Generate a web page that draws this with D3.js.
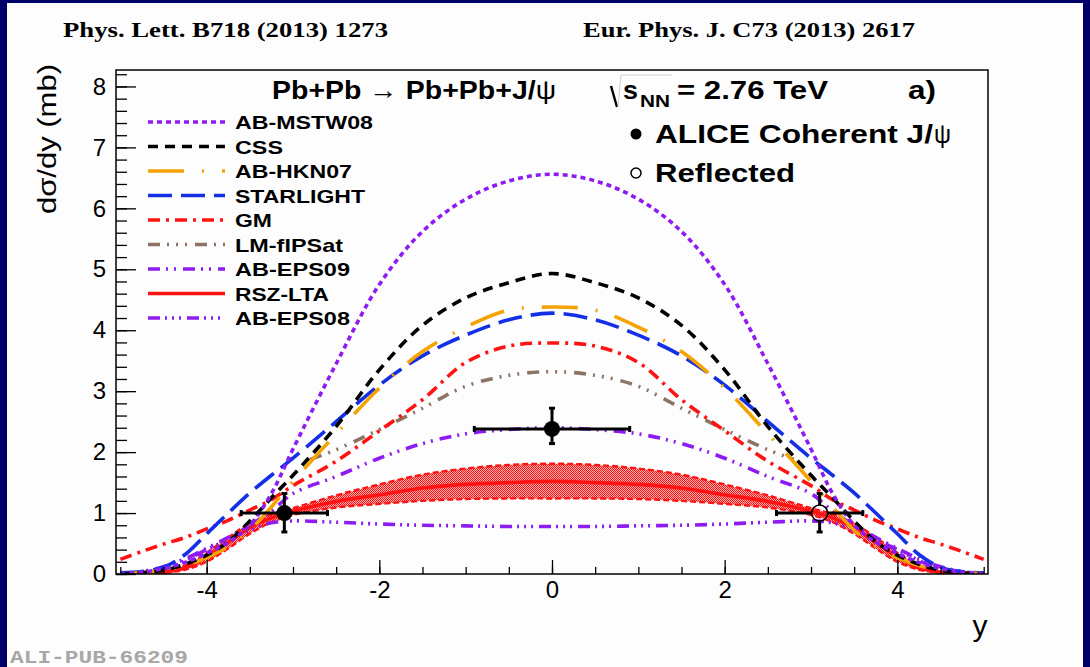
<!DOCTYPE html>
<html>
<head>
<meta charset="utf-8">
<script src="https://cdn.jsdelivr.net/npm/d3@7"></script>
<style>
  body { margin: 0; background: #000068; }
  svg { display: block; }
</style>
</head>
<body>
<svg id="chart"></svg>
<script>
const W = 1090, H = 667;

// rapidity grid shared by most model curves
const rapidity = [-5, -4.75, -4.5, -4.25, -4, -3.75, -3.5, -3.25, -3, -2.5, -2, -1.5, -1, -0.5, 0,
                  0.5, 1, 1.5, 2, 2.5, 3, 3.25, 3.5, 3.75, 4, 4.25, 4.5, 4.75, 5];

const abMstw08  = [0.0, 0.03, 0.09, 0.19, 0.34, 0.52, 0.8, 1.32, 2.05, 3.45, 4.75, 5.62, 6.15, 6.45, 6.56,
                   6.45, 6.15, 5.62, 4.75, 3.45, 2.05, 1.32, 0.8, 0.52, 0.34, 0.19, 0.09, 0.03, 0.0];
const css       = [0.0, 0.02, 0.06, 0.16, 0.31, 0.53, 0.87, 1.25, 1.62, 2.42, 3.35, 4.08, 4.53, 4.78, 4.93,
                   4.78, 4.53, 4.08, 3.35, 2.42, 1.62, 1.25, 0.87, 0.53, 0.31, 0.16, 0.06, 0.02, 0.0];
const abHkn07   = [0.0, 0.02, 0.06, 0.14, 0.27, 0.45, 0.72, 1.1, 1.52, 2.3, 3.05, 3.65, 4.05, 4.33, 4.38,
                   4.33, 4.05, 3.65, 3.05, 2.3, 1.52, 1.1, 0.72, 0.45, 0.27, 0.14, 0.06, 0.02, 0.0];
const starlight = [0.02, 0.04, 0.11, 0.32, 0.66, 1.0, 1.33, 1.62, 1.9, 2.5, 3.1, 3.58, 3.92, 4.17, 4.28,
                   4.17, 3.92, 3.58, 3.1, 2.5, 1.9, 1.62, 1.33, 1.0, 0.66, 0.32, 0.11, 0.04, 0.02];
const gm        = [0.24, 0.37, 0.49, 0.6, 0.74, 0.88, 1.05, 1.22, 1.45, 1.85, 2.35, 2.86, 3.47, 3.74, 3.79,
                   3.74, 3.47, 2.86, 2.35, 1.85, 1.45, 1.22, 1.05, 0.88, 0.74, 0.6, 0.49, 0.37, 0.24];
const abEps09   = [0.01, 0.04, 0.12, 0.25, 0.42, 0.6, 0.8, 1.03, 1.32, 1.6, 1.9, 2.14, 2.3, 2.37, 2.4,
                   2.37, 2.3, 2.14, 1.9, 1.6, 1.32, 1.03, 0.8, 0.6, 0.42, 0.25, 0.12, 0.04, 0.01];
const abEps08   = [0.0, 0.02, 0.08, 0.22, 0.4, 0.56, 0.72, 0.84, 0.87, 0.85, 0.82, 0.8, 0.79, 0.78, 0.78,
                   0.78, 0.79, 0.8, 0.82, 0.85, 0.87, 0.84, 0.72, 0.56, 0.4, 0.22, 0.08, 0.02, 0.0];
const rszLta    = [0.0, 0.01, 0.03, 0.1, 0.28, 0.52, 0.76, 0.92, 1.03, 1.19, 1.3, 1.41, 1.47, 1.5, 1.52,
                   1.5, 1.47, 1.41, 1.3, 1.19, 1.03, 0.92, 0.76, 0.52, 0.28, 0.1, 0.03, 0.01, 0.0];
const rszLtaHi  = [0.0, 0.01, 0.04, 0.14, 0.35, 0.6, 0.83, 0.98, 1.08, 1.29, 1.47, 1.63, 1.73, 1.79, 1.81,
                   1.79, 1.73, 1.63, 1.47, 1.29, 1.08, 0.98, 0.83, 0.6, 0.35, 0.14, 0.04, 0.01, 0.0];
const rszLtaLo  = [0.0, 0.0, 0.02, 0.07, 0.2, 0.42, 0.66, 0.85, 0.97, 1.09, 1.15, 1.2, 1.23, 1.24, 1.24,
                   1.24, 1.23, 1.2, 1.15, 1.09, 0.97, 0.85, 0.66, 0.42, 0.2, 0.07, 0.02, 0.0, 0.0];

// LM-fIPSat only covers |y| < 2.8
const lmRapidity = [-2.8, -2.5, -2, -1.5, -1, -0.5, 0, 0.5, 1, 1.5, 2, 2.5, 2.8];
const lmFipsat   = [1.88, 2.04, 2.37, 2.72, 3.08, 3.26, 3.32, 3.26, 3.08, 2.72, 2.37, 2.04, 1.88];

// ALICE measurements
const aliceY    = [-3.1, 0];
const aliceVal  = [1.0, 2.38];
const aliceEx   = [0.5, 0.9];
const aliceUp   = [0.32, 0.34];
const aliceDown = [0.31, 0.24];
const reflY     = [3.1];
const reflVal   = [1.0];
const reflEx    = [0.5];
const reflUp    = [0.32];
const reflDown  = [0.31];

const xTicks = [-4, -2, 0, 2, 4];
const yTicks = [0, 1, 2, 3, 4, 5, 6, 7, 8];

const models = [
  {name: 'AB-MSTW08', ys: rapidity,   vals: abMstw08,  color: '#8e1cf2', dash: '5,4'},
  {name: 'CSS',       ys: rapidity,   vals: css,       color: '#000000', dash: '10,7'},
  {name: 'AB-HKN07',  ys: rapidity,   vals: abHkn07,   color: '#f5a300', dash: '36,18,2,18'},
  {name: 'STARLIGHT', ys: rapidity,   vals: starlight, color: '#1430e6', dash: '24,9'},
  {name: 'GM',        ys: rapidity,   vals: gm,        color: '#ff1212', dash: '12,6,3,6'},
  {name: 'LM-fIPSat', ys: lmRapidity, vals: lmFipsat,  color: '#8c7364', dash: '12,7,2,7,2,7,2,8'},
  {name: 'AB-EPS09',  ys: rapidity,   vals: abEps09,   color: '#8e1cf2', dash: '12,6,2,6,2,7'},
  {name: 'RSZ-LTA',   ys: rapidity,   vals: rszLta,    color: '#ff1212', dash: null},
  {name: 'AB-EPS08',  ys: rapidity,   vals: abEps08,   color: '#8e1cf2', dash: '12,5,2,5,2,5,2,6'}
];
const legendWidths = [138, 48, 117, 130, 37, 108, 115, 94, 115];

const sans = '"Liberation Sans", Arial, sans-serif';

const svg = d3.select('#chart').attr('width', W).attr('height', H);
svg.append('rect').attr('x', 7).attr('y', 3).attr('width', 1076).attr('height', 664).attr('fill', '#fdfdfd');

const x = d3.scaleLinear().domain([-5.05, 5.05]).range([116, 988]);
const y = d3.scaleLinear().domain([0, 8.27]).range([574, 70]);

function text(s, px, py, size, opts = {}) {
  const t = svg.append('text')
    .attr('x', px).attr('y', py)
    .attr('font-family', opts.family || sans)
    .attr('font-size', size)
    .attr('font-weight', opts.weight || 'normal')
    .attr('fill', opts.fill || '#000')
    .attr('text-anchor', opts.anchor || 'start')
    .text(s);
  if (opts.len) t.attr('textLength', opts.len).attr('lengthAdjust', 'spacingAndGlyphs');
  return t;
}

// journal references
text('Phys. Lett. B718 (2013) 1273', 63, 37, 22, {family: '"Liberation Serif", serif', weight: 'bold', len: 325});
text('Eur. Phys. J. C73 (2013) 2617', 583, 37, 22, {family: '"Liberation Serif", serif', weight: 'bold', len: 332});

// hatched band of RSZ-LTA
const defs = svg.append('defs');
const pat = defs.append('pattern').attr('id', 'hatch').attr('patternUnits', 'userSpaceOnUse')
  .attr('width', 2).attr('height', 2);
pat.append('rect').attr('width', 2).attr('height', 2).attr('fill', '#ffb4b4');
pat.append('rect').attr('width', 1).attr('height', 1).attr('fill', '#ff1010');
pat.append('rect').attr('x', 1).attr('y', 1).attr('width', 1).attr('height', 1).attr('fill', '#ff1010');

defs.append('clipPath').attr('id', 'frame').append('rect')
  .attr('x', 116).attr('y', 70).attr('width', 872).attr('height', 504);

const plot = svg.append('g').attr('clip-path', 'url(#frame)');
const smooth = d3.curveCatmullRom.alpha(0.5);

const area = d3.area().curve(smooth)
  .x((d, i) => x(rapidity[i])).y0((d, i) => y(rszLtaLo[i])).y1((d, i) => y(rszLtaHi[i]));
plot.append('path').datum(rapidity).attr('d', area).attr('fill', 'url(#hatch)');

const line = d3.line().curve(smooth).x(d => x(d[0])).y(d => y(d[1]));
[rszLtaHi, rszLtaLo].forEach(arr => {
  plot.append('path').datum(rapidity.map((r, i) => [r, arr[i]])).attr('d', line)
    .attr('fill', 'none').attr('stroke', '#ff1212').attr('stroke-width', 2.4).attr('stroke-dasharray', '6,3');
});

models.slice().reverse().forEach(m => {
  plot.append('path').datum(m.ys.map((r, i) => [r, m.vals[i]])).attr('d', line)
    .attr('fill', 'none').attr('stroke', m.color).attr('stroke-width', 3.6)
    .attr('stroke-dasharray', m.dash);
});

// axes
function styleAxis(g) {
  g.select('.domain').remove();
  g.selectAll('line').attr('stroke', '#000').attr('stroke-width', 1.3);
  g.selectAll('text').attr('font-family', sans).attr('font-size', 24).attr('fill', '#000');
}
svg.append('g').attr('transform', 'translate(0,574)')
  .call(d3.axisBottom(x).tickValues(d3.range(-5, 5.001, 0.5)).tickSize(-7).tickFormat(''))
  .call(styleAxis);
svg.append('g').attr('transform', 'translate(0,574)')
  .call(d3.axisBottom(x).tickValues(xTicks).tickSize(-14).tickPadding(7).tickFormat(d => String(d)))
  .call(styleAxis);
svg.append('g').attr('transform', 'translate(116,0)')
  .call(d3.axisLeft(y).tickValues(d3.range(0, 8.21, 0.2)).tickSize(-11).tickFormat(''))
  .call(styleAxis);
svg.append('g').attr('transform', 'translate(116,0)')
  .call(d3.axisLeft(y).tickValues(yTicks).tickSize(-20).tickPadding(10).tickFormat(d => String(d)))
  .call(styleAxis);

svg.append('rect').attr('x', 116).attr('y', 70).attr('width', 872).attr('height', 504)
  .attr('fill', 'none').attr('stroke', '#000').attr('stroke-width', 1.5);

text('y', 980, 636, 30, {anchor: 'middle'});
text('dσ/dy (mb)', 0, 0, 25, {anchor: 'end', len: 150})
  .attr('transform', 'translate(56,64) rotate(-90)');

// data points
function drawPoints(ys, vals, ex, up, down, filled) {
  const g = svg.append('g').attr('stroke', '#000').attr('stroke-width', 3);
  ys.forEach((r, i) => {
    const cx = x(r), cy = y(vals[i]);
    const rad = 8;
    const gap = filled ? 0 : rad;
    g.append('line').attr('x1', x(r - ex[i])).attr('x2', cx - gap).attr('y1', cy).attr('y2', cy);
    g.append('line').attr('x1', cx + gap).attr('x2', x(r + ex[i])).attr('y1', cy).attr('y2', cy);
    g.append('line').attr('x1', cx).attr('x2', cx).attr('y1', y(vals[i] + up[i])).attr('y2', cy - gap);
    g.append('line').attr('x1', cx).attr('x2', cx).attr('y1', cy + gap).attr('y2', y(vals[i] - down[i]));
    // end caps
    [x(r - ex[i]), x(r + ex[i])].forEach(px => g.append('line').attr('x1', px).attr('x2', px)
      .attr('y1', cy - 3).attr('y2', cy + 3));
    [y(vals[i] + up[i]), y(vals[i] - down[i])].forEach(py => g.append('line').attr('x1', cx - 3).attr('x2', cx + 3)
      .attr('y1', py).attr('y2', py));
    g.append('circle').attr('cx', cx).attr('cy', cy).attr('r', rad)
      .attr('fill', filled ? '#000' : 'none').attr('stroke-width', filled ? 0 : 1.6);
  });
}
drawPoints(aliceY, aliceVal, aliceEx, aliceUp, aliceDown, true);
drawPoints(reflY, reflVal, reflEx, reflUp, reflDown, false);

// legend of models
models.forEach((m, i) => {
  const ly = 122 + i * 24.5;
  svg.append('line').attr('x1', 148).attr('x2', 225).attr('y1', ly).attr('y2', ly)
    .attr('stroke', m.color).attr('stroke-width', 3.4).attr('stroke-dasharray', m.dash);
  text(m.name, 235, ly + 7, 18.5, {weight: 'bold', len: legendWidths[i]});
});

// header of the plot
const title = text('', 272, 99, 26, {weight: 'bold', len: 284});
title.append('tspan').text('Pb+Pb ');
title.append('tspan').attr('font-weight', 'normal').text('→');
title.append('tspan').text(' Pb+Pb+J/');
title.append('tspan').attr('font-weight', 'normal').text('ψ');

svg.append('path').attr('d', 'M611,86 L617,107').attr('stroke', '#000').attr('stroke-width', 2.4).attr('fill', 'none');
svg.append('path').attr('d', 'M618,107 L621,75 L672,75').attr('stroke', '#cfcfcf').attr('stroke-width', 1).attr('fill', 'none');
text('s', 623, 99, 26, {weight: 'bold', len: 15});
text('NN', 640, 107, 17, {weight: 'bold', len: 30});
text('= 2.76 TeV', 677, 99, 26, {weight: 'bold', len: 151});
text('a)', 908, 99, 26, {weight: 'bold', len: 28});

svg.append('circle').attr('cx', 636).attr('cy', 134).attr('r', 5.5).attr('fill', '#000');
text('ALICE Coherent J/', 655, 143, 25, {weight: 'bold', len: 278});
text('ψ', 934, 143, 25, {len: 17});
svg.append('circle').attr('cx', 636).attr('cy', 173).attr('r', 5).attr('fill', 'none')
  .attr('stroke', '#000').attr('stroke-width', 1.5);
text('Reflected', 655, 182, 25, {weight: 'bold', len: 140});

text('ALI-PUB-66209', 10, 663, 18, {family: '"Liberation Mono", monospace', weight: 'bold', fill: '#a8a8a8', len: 178});
</script>
</body>
</html>
